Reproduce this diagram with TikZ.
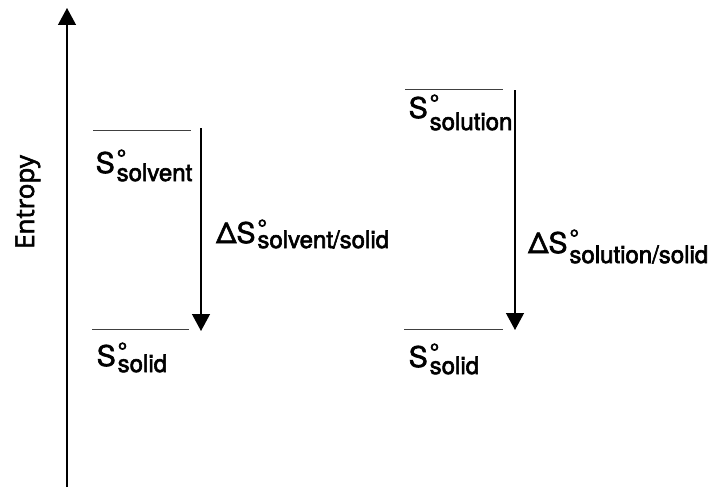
\documentclass[tikz,border=0pt]{standalone}
\usepackage{fontspec}
\setmainfont{TeX Gyre Heros}
\newfontfamily\axisfont{Open Sans}
\usetikzlibrary{arrows.meta}

% slightly heavier glyphs: fill and stroke the text outlines
\newcommand\heavy[1]{\special{pdf:literal direct 2 Tr 0.6 w}#1\special{pdf:literal direct 0 Tr}}

% standard entropy symbol: S, degree sign and a lowered subscript
\newcommand\mainsize{\fontsize{28.5}{32}\selectfont}
\newcommand\subsize{\fontsize{24}{28}\selectfont}
\newcommand\Sstd[2]{S\kern2pt\rlap{\raisebox{6.5pt}{\subsize °}}\raisebox{-#2}{\subsize #1}}

\tikzset{
  level/.style={line width=1pt, draw=black!75},
  drop/.style={line width=1.3pt, draw=black, -{Triangle[length=17pt,width=18pt]}},
  axis/.style={line width=1.3pt, draw=black, -{Triangle[length=17pt,width=18pt]}},
  term/.style={inner sep=0pt, anchor=base west, font=\mainsize},
}

\begin{document}
\begin{tikzpicture}[x=1pt,y=-1pt]
  \useasboundingbox (0,0) rectangle (709,487);

  % entropy axis
  \coordinate (axbot) at (67,487);
  \coordinate (axtop) at (67,8);
  \draw[axis] (axbot) -- (axtop);
  \node[inner sep=0pt, anchor=base, rotate=90, font=\axisfont\fontsize{26}{30}\selectfont]
    (entropy) at (34,202) {\heavy{Entropy}};

  % pure solvent versus solid
  \coordinate (lvtopA) at (93,130);
  \coordinate (lvtopB) at (191,130);
  \coordinate (lvbotA) at (92,329);
  \coordinate (lvbotB) at (189,329);
  \draw[level] (lvtopA) -- (lvtopB);
  \draw[level] (lvbotA) -- (lvbotB);
  \coordinate (ldropstart) at (201,128);
  \coordinate (ldropend) at (201,331);
  \draw[drop] (ldropstart) -- (ldropend);
  \node[term] (ssolvent) at (95.5,173) {\heavy{\Sstd{solvent}{8pt}}};
  \node[term] (dsleft) at (216,243) {\heavy{Δ\Sstd{solvent/solid}{5pt}}};
  \node[term] (ssolidL) at (96.5,366) {\heavy{\Sstd{solid}{6pt}}};

  % solution versus solid
  \coordinate (rvtopA) at (405,89);
  \coordinate (rvtopB) at (503,89);
  \coordinate (rvbotA) at (404,329);
  \coordinate (rvbotB) at (503,329);
  \draw[level] (rvtopA) -- (rvtopB);
  \draw[level] (rvbotA) -- (rvbotB);
  \coordinate (rdropstart) at (515,90);
  \coordinate (rdropend) at (515,330);
  \draw[drop] (rdropstart) -- (rdropend);
  \node[term] (ssolution) at (408.5,118) {\heavy{\Sstd{solution}{12pt}}};
  \node[term] (dsright) at (528,253) {\heavy{Δ\Sstd{solution/solid}{10pt}}};
  \node[term] (ssolidR) at (408.5,367) {\heavy{\Sstd{solid}{7pt}}};
\end{tikzpicture}
\end{document}
